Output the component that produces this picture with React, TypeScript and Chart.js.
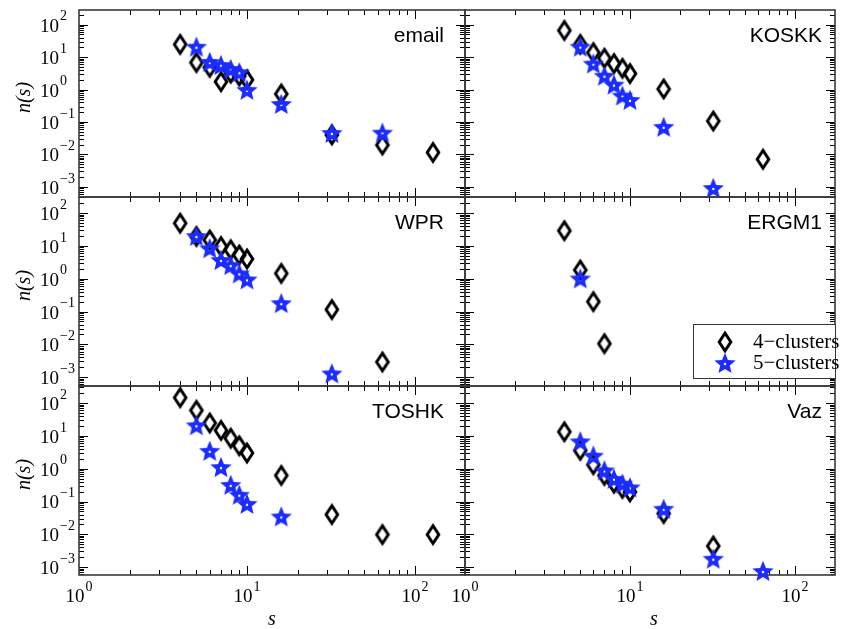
import React, { useEffect, useRef } from "react";
import { Chart, registerables } from "chart.js";

Chart.register(...registerables);

// ---------- data ----------
const sizes = [4, 5, 6, 7, 8, 9, 10, 16, 32, 64, 128];

const emailFour = [24.6, 6.8, 4.8, 1.74, 3.2, 2.6, 2.0, 0.73, 0.04, 0.0195, 0.0115];
const emailFive = [null, 20.8, 7.1, 5.7, 4.3, 3.4, 0.98, 0.36, 0.046, 0.047, null];

const koskkFour = [66, 24.6, 13.7, 9.2, 6.3, 4.5, 3.1, 1.04, 0.107, 0.0071, null];
const koskkFive = [null, 20.8, 6.3, 2.66, 1.42, 0.65, 0.48, 0.071, 0.00093, null, null];

const wprFour = [49, 19.4, 15.2, 9.5, 7.6, 5.3, 4.0, 1.45, 0.115, 0.0029, null];
const wprFive = [null, 20, 8.5, 3.7, 2.6, 1.45, 0.95, 0.18, 0.0013, null, null];

const ergmFour = [29, 1.84, 0.2, 0.0105, null, null, null, null, null, null, null];
const ergmFive = [null, 1.02, null, null, null, null, null, null, null, null, null];

const toshkFour = [146, 60, 24.6, 14.7, 8.5, 5.0, 3.0, 0.62, 0.04, 0.0098, 0.0098];
const toshkFive = [null, 21, 3.5, 1.12, 0.32, 0.16, 0.085, 0.035, null, null, null];

const vazFour = [13.3, 3.6, 1.32, 0.62, 0.36, 0.25, 0.195, 0.043, 0.0044, null, null];
const vazFive = [null, 6.8, 2.5, 0.89, 0.49, 0.35, 0.27, 0.06, 0.0018, 0.00076, null];

const panelNames = ["email", "KOSKK", "WPR", "ERGM1", "TOSHK", "Vaz"];
const panelFour = [emailFour, koskkFour, wprFour, ergmFour, toshkFour, vazFour];
const panelFive = [emailFive, koskkFive, wprFive, ergmFive, toshkFive, vazFive];

const xTickExponents = [0, 1, 2];
const yTickExponents = [2, 1, 0, -1, -2, -3];
const minorMultipliers = [2, 3, 4, 5, 6, 7, 8, 9];
const legendLabels = ["4\u2212clusters", "5\u2212clusters"];
const xTitle = "s";
const yTitle = "n(s)";

// ---------- layout ----------
const W = 845;
const H = 629;
const COLS = [
  [79, 465],
  [465, 842],
];
const ROWS = [
  [8, 197],
  [197, 386],
  [386, 575],
];
const X_MAX = [198.5, 175];
const Y_LOG = [
  [-3.31, 2.45],
  [-3.27, 2.49],
  [-3.24, 2.52],
];
const STAR_COLOR = "#1b2cff";
const SERIF = '"Liberation Serif", "Times New Roman", serif';
const SANS = '"Liberation Sans", Arial, sans-serif';

function makeDiamond(): HTMLCanvasElement {
  const c = document.createElement("canvas");
  c.width = 32;
  c.height = 32;
  const g = c.getContext("2d")!;
  g.strokeStyle = "#000";
  g.lineWidth = 3;
  g.lineJoin = "miter";
  g.beginPath();
  g.moveTo(16, 16 - 8.8);
  g.lineTo(16 + 5.8, 16);
  g.lineTo(16, 16 + 8.8);
  g.lineTo(16 - 5.8, 16);
  g.closePath();
  g.stroke();
  return c;
}

function makeStar(): HTMLCanvasElement {
  const c = document.createElement("canvas");
  c.width = 32;
  c.height = 32;
  const g = c.getContext("2d")!;
  g.fillStyle = STAR_COLOR;
  const R = 11.2;
  const r = 5.0;
  const cx = 16;
  const cy = 17;
  g.beginPath();
  for (let k = 0; k < 10; k++) {
    const a = -Math.PI / 2 + (k * Math.PI) / 5;
    const rr = k % 2 === 0 ? R : r;
    const px = cx + rr * Math.cos(a);
    const py = cy + rr * Math.sin(a);
    if (k === 0) g.moveTo(px, py);
    else g.lineTo(px, py);
  }
  g.closePath();
  g.fill();
  // small see-through hole at the centre
  g.globalCompositeOperation = "destination-out";
  g.beginPath();
  g.arc(cx, cy, 1.2, 0, Math.PI * 2);
  g.fill();
  g.globalCompositeOperation = "source-over";
  return c;
}

function drawPow(
  ctx: CanvasRenderingContext2D,
  exp: number,
  x: number,
  y: number,
  align: "right" | "center"
) {
  const base = "10";
  const ex = exp < 0 ? "\u2212" + String(-exp) : String(exp);
  ctx.font = `19px ${SERIF}`;
  const wb = ctx.measureText(base).width;
  ctx.font = `14px ${SERIF}`;
  const we = ctx.measureText(ex).width;
  let x0: number;
  if (align === "right") x0 = x - wb;
  else x0 = x - (wb + 1 + we) / 2;
  ctx.textAlign = "left";
  ctx.textBaseline = "middle";
  ctx.fillStyle = "#000";
  ctx.font = `19px ${SERIF}`;
  ctx.fillText(base, x0, y + 2);
  ctx.font = `14px ${SERIF}`;
  ctx.fillText(ex, x0 + wb + 1, y - 8);
}

function panelPlugin(i: number, diamond: HTMLCanvasElement, star: HTMLCanvasElement) {
  const col = i % 2;
  const row = Math.floor(i / 2);
  return {
    id: "panel" + i,
    beforeDatasetsDraw(chart: any) {
      const ctx: CanvasRenderingContext2D = chart.ctx;
      const { left, right, top, bottom } = chart.chartArea;
      const xs = chart.scales.x;
      const ys = chart.scales.y;
      ctx.save();
      ctx.strokeStyle = "#000";
      ctx.lineWidth = 1;
      ctx.beginPath();
      for (let d = -4; d <= 3; d++) {
        for (const m of [1, ...minorMultipliers]) {
          const v = m * Math.pow(10, d);
          const len = m === 1 ? 9 : 5;
          if (v > xs.min && v < xs.max) {
            const px = Math.round(xs.getPixelForValue(v)) + 0.5;
            ctx.moveTo(px, bottom);
            ctx.lineTo(px, bottom - len);
            ctx.moveTo(px, top);
            ctx.lineTo(px, top + len);
          }
          if (v > ys.min && v < ys.max) {
            const py = Math.round(ys.getPixelForValue(v)) + 0.5;
            ctx.moveTo(left, py);
            ctx.lineTo(left + len, py);
            ctx.moveTo(right, py);
            ctx.lineTo(right - len, py);
          }
        }
      }
      ctx.stroke();
      ctx.strokeStyle = "#3a3a3a";
      ctx.lineWidth = 1.6;
      ctx.strokeRect(left, top, right - left, bottom - top);
      ctx.restore();
    },
    afterDatasetsDraw(chart: any) {
      const ctx: CanvasRenderingContext2D = chart.ctx;
      const { left, right, top, bottom } = chart.chartArea;
      const xs = chart.scales.x;
      const ys = chart.scales.y;
      ctx.save();
      // panel name
      ctx.fillStyle = "#000";
      ctx.font = `21px ${SANS}`;
      ctx.textAlign = "right";
      ctx.textBaseline = "alphabetic";
      ctx.fillText(panelNames[i], col === 0 ? right - 21 : right - 13, top + 32);

      if (col === 0) {
        for (const e of yTickExponents) {
          const py = ys.getPixelForValue(Math.pow(10, e));
          drawPow(ctx, e, 59, py, "right");
        }
        ctx.save();
        ctx.translate(25, (top + bottom) / 2 - 6);
        ctx.rotate(-Math.PI / 2);
        ctx.font = `italic 20px ${SERIF}`;
        ctx.textAlign = "center";
        ctx.textBaseline = "middle";
        ctx.fillText(yTitle, 0, 0);
        ctx.restore();
      }
      if (row === 2) {
        for (const e of xTickExponents) {
          const px = xs.getPixelForValue(Math.pow(10, e));
          drawPow(ctx, e, px, bottom + 20, "center");
        }
        ctx.font = `italic 20px ${SERIF}`;
        ctx.textAlign = "center";
        ctx.textBaseline = "middle";
        ctx.fillText(xTitle, (left + right) / 2 + (col === 1 ? 4 : 0), bottom + 45);
      }
      if (i === 3) {
        const bx = 693;
        const by = bottom - 62;
        const bw = right + 1 - bx;
        const bh = 55;
        ctx.fillStyle = "#fff";
        ctx.fillRect(bx, by, bw, bh);
        ctx.strokeStyle = "#333";
        ctx.lineWidth = 1;
        ctx.strokeRect(bx + 0.5, by + 0.5, bw - 1, bh - 1);
        const rows = [by + 18, by + 39];
        ctx.drawImage(diamond, 725 - diamond.width / 2, rows[0] - diamond.height / 2);
        ctx.drawImage(star, 725 - star.width / 2, rows[1] - star.height / 2);
        ctx.fillStyle = "#000";
        ctx.font = `21px ${SERIF}`;
        ctx.textAlign = "left";
        ctx.textBaseline = "middle";
        ctx.fillText(legendLabels[0], 753, rows[0]);
        ctx.fillText(legendLabels[1], 753, rows[1]);
      }
      ctx.restore();
    },
  };
}

function toPoints(vals: (number | null)[]) {
  const out: { x: number; y: number }[] = [];
  sizes.forEach((s, k) => {
    const v = vals[k];
    if (v !== null && v !== undefined) out.push({ x: s, y: v });
  });
  return out;
}

export default function App() {
  const refs = useRef<(HTMLCanvasElement | null)[]>([]);
  useEffect(() => {
    const diamond = makeDiamond();
    const star = makeStar();
    const charts = panelNames.map((name, i) => {
      const col = i % 2;
      const row = Math.floor(i / 2);
      const [x0, x1] = COLS[col];
      const [y0, y1] = ROWS[row];
      return new Chart(refs.current[i]!, {
        type: "scatter",
        data: {
          datasets: [
            {
              label: legendLabels[1],
              data: toPoints(panelFive[i]),
              pointStyle: star as any,
              pointRadius: 10,
              pointHoverRadius: 10,
              borderWidth: 0,
              clip: false as any,
              order: 1,
            },
            {
              label: legendLabels[0],
              data: toPoints(panelFour[i]),
              pointStyle: diamond as any,
              pointRadius: 10,
              pointHoverRadius: 10,
              borderWidth: 0,
              clip: false as any,
              order: 2,
            },
          ],
        },
        options: {
          responsive: false,
          animation: false,
          events: [],
          layout: {
            padding: { left: x0, top: y0, right: W - x1, bottom: H - y1 },
          },
          scales: {
            x: { type: "logarithmic", min: 1, max: X_MAX[col], display: false },
            y: {
              type: "logarithmic",
              min: Math.pow(10, Y_LOG[row][0]),
              max: Math.pow(10, Y_LOG[row][1]),
              display: false,
            },
          },
          plugins: {
            legend: { display: false },
            tooltip: { enabled: false },
          },
        },
        plugins: [panelPlugin(i, diamond, star)],
      } as any);
    });
    return () => charts.forEach((c) => c.destroy());
  }, []);

  return (
    <div
      style={{
        position: "absolute",
        left: 0,
        top: 0,
        width: W,
        height: H,
        background: "#fff",
        overflow: "hidden",
      }}
    >
      {panelNames.map((n, i) => (
        <canvas
          key={n}
          ref={(el) => {
            refs.current[i] = el;
          }}
          width={W}
          height={H}
          style={{ position: "absolute", left: 0, top: 0 }}
        />
      ))}
    </div>
  );
}
